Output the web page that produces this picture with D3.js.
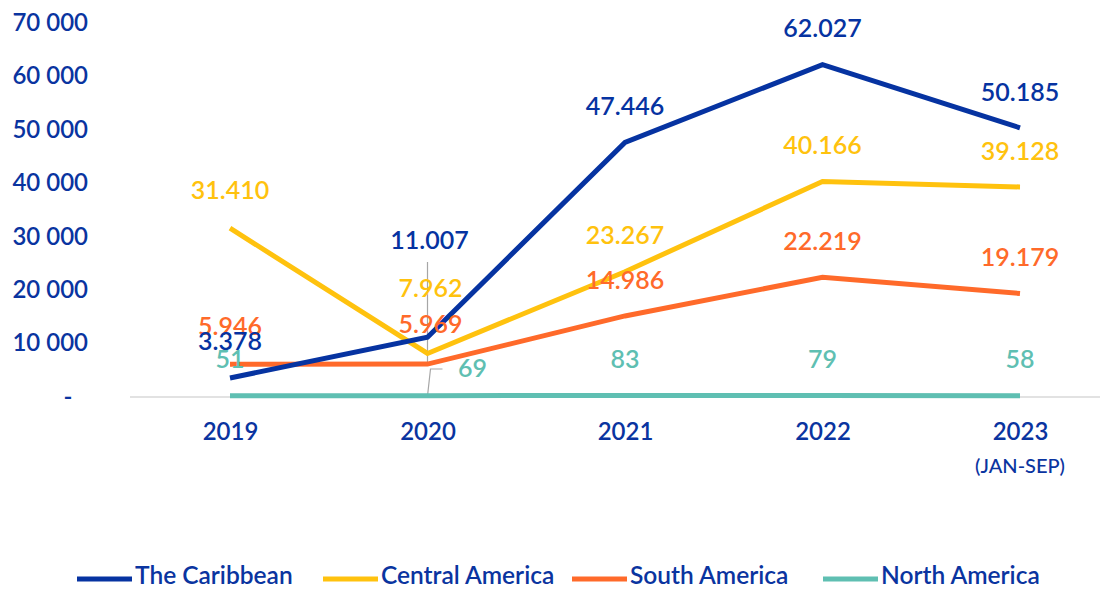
<!DOCTYPE html>
<html><head><meta charset="utf-8">
<script src="https://cdn.jsdelivr.net/npm/d3@7"></script>
<style>
html,body{margin:0;padding:0;background:#fff;}
text{font-family:Lato,"Noto Sans",sans-serif;}
</style></head>
<body>
<svg id="chart" width="1108" height="589"></svg>
<script>
const years = ["2019","2020","2021","2022","2023"];
const yearSub = ["","","","","(JAN-SEP)"];
const caribbean = [3378, 11007, 47446, 62027, 50185];
const centralAmerica = [31410, 7962, 23267, 40166, 39128];
const southAmerica = [5946, 5969, 14986, 22219, 19179];
const northAmerica = [51, 69, 83, 79, 58];
const yTicks = [0, 10000, 20000, 30000, 40000, 50000, 60000, 70000];
const seriesNames = ["The Caribbean", "Central America", "South America", "North America"];

const colors = ["#0633a1", "#ffc20e", "#ff6a2a", "#5fbfb2"];
const series = [caribbean, centralAmerica, southAmerica, northAmerica];
// label offset overrides [series][index] -> [dx, dy]
const labelOffsets = {"0-1":[2,-97], "1-1":[3,-65], "2-1":[3,-40], "3-1":[45,-27], "0-0":[0,-37], "1-0":[0,-38], "2-0":[0,-38]};

const svg = d3.select("#chart");
const x = d3.scalePoint().domain(years).range([230, 1020]);
const y = d3.scaleLinear().domain([0, 70000]).range([396, 22]);
const fmtTick = v => v === 0 ? "-" : d3.format(",")(v).replace(/,/g, " ");
const fmtLabel = v => v >= 1000 ? d3.format(",")(v).replace(/,/g, ".") : String(v);
const FW = 600;

// baseline
svg.append("line").attr("x1", 130).attr("x2", 1100).attr("y1", y(0)+1).attr("y2", y(0)+1)
  .attr("stroke", "#d9d9d9").attr("stroke-width", 1.5);

// y axis ticks
const yAxis = d3.axisLeft(y).tickValues(yTicks).tickFormat(fmtTick).tickSize(0).tickPadding(0);
const ya = svg.append("g").attr("transform", "translate(88,0)").call(yAxis);
ya.select(".domain").remove();
ya.selectAll("text").attr("fill", "#0a34a0").attr("font-size", 24).attr("font-weight", FW)
  .attr("font-family", "Lato").attr("dy", "0.35em")
  .attr("text-anchor", d => d === 0 ? "middle" : "end")
  .attr("dx", d => d === 0 ? -20 : 0);

// x axis
const xAxis = d3.axisBottom(x).tickSize(0).tickPadding(0);
const xa = svg.append("g").attr("transform", "translate(0,432)").call(xAxis);
xa.select(".domain").remove();
xa.selectAll("text").attr("fill", "#0a34a0").attr("font-size", 24).attr("font-weight", FW)
  .attr("font-family", "Lato").attr("dy", "0.35em").attr("y", 0);
svg.append("g").selectAll("text").data(years.filter((d,i)=>yearSub[i])).join("text")
  .attr("x", d => x(d)).attr("y", 466).attr("dy", "0.35em").attr("text-anchor", "middle")
  .attr("fill", "#0a34a0").attr("font-size", 20).attr("font-weight", 500).text((d) => yearSub[years.indexOf(d)]);

// leader lines for 2020
const g2020 = x("2020");
svg.append("line").attr("x1", g2020).attr("x2", g2020).attr("y1", 262).attr("y2", 364)
  .attr("stroke", "#a6a6a6").attr("stroke-width", 1.2);
svg.append("polyline").attr("points", `${g2020},${y(0)} ${g2020+3},369 ${g2020+15},369`)
  .attr("fill", "none").attr("stroke", "#a6a6a6").attr("stroke-width", 1.2);

// lines (draw order: north, south, central, caribbean on top)
const line = d3.line().x((d,i) => x(years[i])).y(d => y(d));
[3,2,1,0].forEach(s => {
  svg.append("path").datum(series[s]).attr("d", line).attr("fill", "none")
    .attr("stroke", colors[s]).attr("stroke-width", 5).attr("stroke-linejoin", "miter");
});

// data labels
[3,2,1,0].forEach(s => {
  svg.append("g").selectAll("text").data(series[s]).join("text")
    .attr("x", (d,i) => x(years[i]) + ((labelOffsets[s+"-"+i]||[0,-36])[0]))
    .attr("y", (d,i) => y(d) + ((labelOffsets[s+"-"+i]||[0,-36])[1]))
    .attr("dy", "0.35em").attr("text-anchor", "middle")
    .attr("fill", colors[s]).attr("font-size", 25).attr("font-weight", FW)
    .text(d => fmtLabel(d));
});

// legend
const legendX = [77, 323, 572, 823];
const lg = svg.append("g");
seriesNames.forEach((n, i) => {
  lg.append("line").attr("x1", legendX[i]).attr("x2", legendX[i] + 55).attr("y1", 579).attr("y2", 579)
    .attr("stroke", colors[i]).attr("stroke-width", 5);
  lg.append("text").attr("x", legendX[i] + 58).attr("y", 575).attr("dy", "0.35em")
    .attr("fill", "#0a34a0").attr("font-size", 24.5).attr("font-weight", FW).text(n);
});
</script>
</body></html>
